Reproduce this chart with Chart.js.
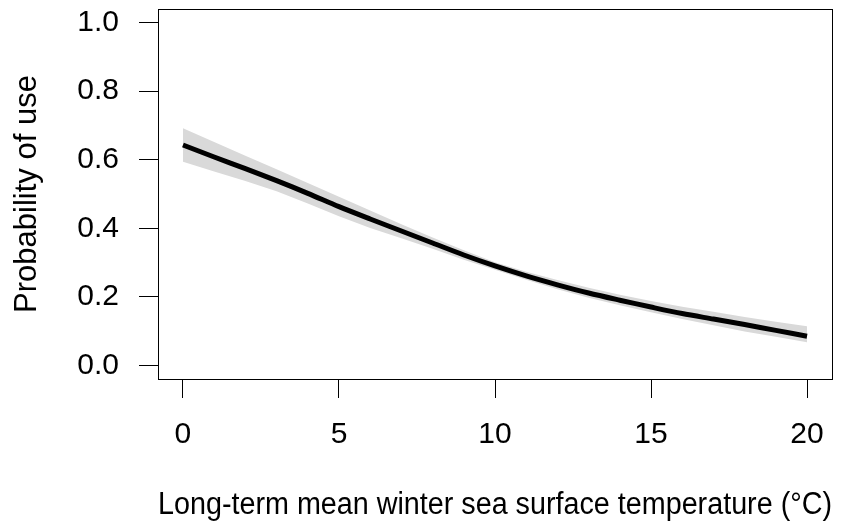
<!DOCTYPE html>
<html>
<head>
<meta charset="utf-8">
<script src="https://cdn.jsdelivr.net/npm/chart.js@4.4.1/dist/chart.umd.min.js"></script>
<style>
  html, body { margin: 0; padding: 0; background: #ffffff; }
  #wrap { width: 867px; height: 531px; position: relative; }
</style>
</head>
<body>
<div id="wrap"><canvas id="c" width="867" height="531"></canvas></div>
<script>
// Data
const temps = [0,1,2,3,4,5,6,7,8,9,10,11,12,13,14,15,16,17,18,19,20];
const probFit = [0.643,0.608,0.574,0.539,0.502,0.463,0.427,0.392,0.357,0.322,0.290,0.261,0.235,0.211,0.190,0.170,0.151,0.135,0.119,0.102,0.085];
const probUpper = [0.692,0.652,0.612,0.572,0.532,0.492,0.452,0.412,0.373,0.336,0.301,0.273,0.249,0.226,0.206,0.188,0.171,0.156,0.141,0.127,0.114];
const probLower = [0.594,0.566,0.538,0.508,0.472,0.435,0.401,0.371,0.340,0.308,0.279,0.250,0.222,0.197,0.175,0.155,0.135,0.117,0.099,0.083,0.067];
const xTicks = [0,5,10,15,20];
const yTicks = [0.0,0.2,0.4,0.6,0.8,1.0];
const xTitle = 'Long-term mean winter sea surface temperature (°C)';
const yTitle = 'Probability of use';

const pts = (ys) => temps.map((x, i) => ({x: x, y: ys[i]}));
const FONT = 'Liberation Sans, Arial, sans-serif';

const boxPlugin = {
  id: 'box',
  afterDraw(chart) {
    const {ctx, chartArea: a} = chart;
    ctx.save();
    ctx.strokeStyle = '#000';
    ctx.lineWidth = 1;
    ctx.strokeRect(Math.round(a.left) + 0.5, Math.round(a.top) + 0.5, Math.round(a.right - a.left), Math.round(a.bottom - a.top));
    ctx.restore();
  }
};

new Chart(document.getElementById('c'), {
  type: 'line',
  data: {
    datasets: [
      { label: 'upper', order: 2, data: pts(probUpper), borderWidth: 0, pointRadius: 0, fill: '+1', backgroundColor: '#d9d9d9', borderColor: 'rgba(0,0,0,0)', tension: 0 },
      { label: 'lower', order: 3, data: pts(probLower), borderWidth: 0, pointRadius: 0, fill: false, borderColor: 'rgba(0,0,0,0)', tension: 0 },
      { label: 'fit', order: 0, data: pts(probFit), borderWidth: 5, pointRadius: 0, borderColor: '#000000', fill: false, tension: 0.3, borderCapStyle: 'butt' }
    ]
  },
  options: {
    responsive: false,
    animation: false,
    layout: { padding: { left: 0, top: 9, right: 35, bottom: 0 } },
    plugins: { legend: { display: false }, tooltip: { enabled: false } },
    scales: {
      x: {
        type: 'linear', min: -0.8, max: 20.8,
        afterFit: (s) => { s.height = 152; s.paddingLeft = 0; s.paddingRight = 0; },
        afterBuildTicks: (s) => { s.ticks = xTicks.map(v => ({value: v})); },
        border: { display: false },
        grid: { display: true, drawOnChartArea: false, drawTicks: true, tickLength: 19, color: '#000', lineWidth: 1 },
        ticks: { color: '#000', font: { family: FONT, size: 30 }, padding: 19, maxRotation: 0, callback: (v) => String(v) },
        title: { display: true, text: xTitle, color: '#000', font: { family: FONT, size: 31, lineHeight: 1 }, padding: { top: 0, bottom: 10 } }
      },
      y: {
        type: 'linear', min: -0.04, max: 1.04,
        afterFit: (s) => { s.width = 158; s.paddingTop = 0; s.paddingBottom = 0; },
        afterBuildTicks: (s) => { s.ticks = yTicks.map(v => ({value: v})); },
        border: { display: false },
        grid: { display: true, drawOnChartArea: false, drawTicks: true, tickLength: 19, color: '#000', lineWidth: 1 },
        ticks: { color: '#000', font: { family: FONT, size: 30 }, padding: 20, callback: (v) => Number(v).toFixed(1) },
        title: { display: true, text: yTitle, color: '#000', font: { family: FONT, size: 31, lineHeight: 1 }, padding: { top: 12, bottom: 0 } }
      }
    }
  },
  plugins: [boxPlugin]
});
</script>
</body>
</html>
